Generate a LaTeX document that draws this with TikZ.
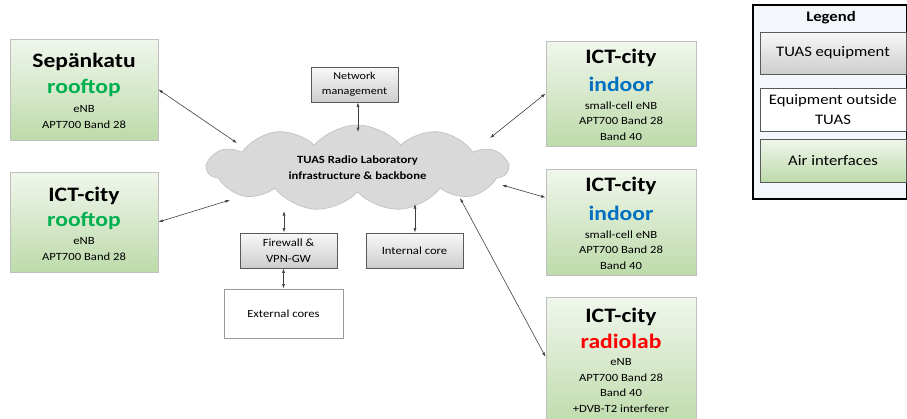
\documentclass[tikz,border=0pt]{standalone}
\usepackage{fontspec}
\setmainfont{Carlito}[FakeStretch=1.15]
\usetikzlibrary{arrows.meta,shapes.symbols,calc}
\definecolor{gtop}{HTML}{F0F6EC}
\definecolor{gbot}{HTML}{BDDBAA}
\definecolor{ktop}{HTML}{F8F8F8}
\definecolor{kbot}{HTML}{CDCDCD}
\definecolor{gborder}{HTML}{BFBFBF}
\definecolor{kborder}{HTML}{595959}
\definecolor{cloudfill}{HTML}{D9D9D9}
\definecolor{cloudline}{HTML}{BFBFBF}
\definecolor{roofgreen}{HTML}{00B050}
\definecolor{indoorblue}{HTML}{0070C0}
\definecolor{labred}{HTML}{FF0000}
\definecolor{legbg}{HTML}{F3F6FB}
\definecolor{arrowcol}{HTML}{404040}
\begin{document}
\begin{tikzpicture}[x=1pt,y=-1pt,
  gbox/.style={draw=gborder, line width=0.8pt, top color=gtop, bottom color=gbot, inner sep=0},
  kbox/.style={draw=kborder, line width=0.8pt, top color=ktop, bottom color=kbot, inner sep=0, align=center},
  wbox/.style={draw=gborder!80!black, line width=0.8pt, fill=white, inner sep=0, align=center},
  ttl/.style={font=\fontsize{20.5}{24}\selectfont\bfseries, anchor=base, inner sep=0},
  body/.style={font=\fontsize{11}{15.5}\selectfont, align=center, anchor=north, inner sep=0},
  biarrow/.style={draw=arrowcol, line width=0.6pt, arrows={Latex[length=4.5pt,width=3pt]-Latex[length=4.5pt,width=3pt]}},
  legtext/.style={font=\fontsize{14.5}{20}\selectfont, align=center}
]
\useasboundingbox (0,0) rectangle (907,418);

% cloud
\node[cloud, cloud puffs=11, cloud puff arc=100, aspect=3.4, draw=cloudline, fill=cloudfill,
      line width=0.6pt, minimum width=300, minimum height=86, inner sep=0,
      font=\fontsize{11}{16}\selectfont\bfseries, align=center] (cloud) at (357.5,168)
  {TUAS Radio Laboratory\\infrastructure \& backbone};

% green boxes
\node[gbox, minimum width=148, minimum height=101] (sep) at (84,89.5) {};
\node[ttl] (sepT) at (84,67.7) {Sepänkatu};
\node[ttl, text=roofgreen] (sepS) at (84,93.5) {rooftop};
\node[body] (sepB) at (84,105.7) {eNB\\APT700 Band 28};

\node[gbox, minimum width=148, minimum height=100] (rl) at (84,222) {};
\node[ttl] (rlT) at (84,201.7) {ICT-city};
\node[ttl, text=roofgreen] (rlS) at (84,226.5) {rooftop};
\node[body] (rlB) at (84,237.7) {eNB\\APT700 Band 28};

\node[gbox, minimum width=150, minimum height=105] (in1) at (621,93.5) {};
\node[ttl] (in1T) at (621,63.3) {ICT-city};
\node[ttl, text=indoorblue] (in1S) at (621,91) {indoor};
\node[body] (in1B) at (621,101.5) {small-cell eNB\\APT700 Band 28\\Band 40};

\node[gbox, minimum width=150, minimum height=106] (in2) at (621,222) {};
\node[ttl] (in2T) at (621,191.7) {ICT-city};
\node[ttl, text=indoorblue] (in2S) at (621,220) {indoor};
\node[body] (in2B) at (621,230.5) {small-cell eNB\\APT700 Band 28\\Band 40};

\node[gbox, minimum width=150, minimum height=133] (rad) at (621,363.5) {};
\node[ttl] (radT) at (621,322) {ICT-city};
\node[ttl, text=labred] (radS) at (621,348) {radiolab};
\node[body] (radB) at (621,358.7) {eNB\\APT700 Band 28\\Band 40\\+DVB-T2 interferer};

% gray / white boxes
\node[kbox, minimum width=87, minimum height=35, font=\fontsize{10.5}{14.5}\selectfont] (nm) at (354.5,84.5) {Network\\management};
\node[kbox, minimum width=97, minimum height=35, font=\fontsize{11}{16}\selectfont] (fw) at (288.5,250.5) {Firewall \&\\VPN-GW};
\node[kbox, minimum width=97, minimum height=35, font=\fontsize{11}{16}\selectfont] (ic) at (414.5,250.5) {Internal core};
\node[wbox, minimum width=119, minimum height=49, font=\fontsize{11}{16}\selectfont] (ext) at (283.5,313.5) {External cores};

% cloud attachment points
\coordinate (c1) at (237,143);
\coordinate (c2) at (230,200);
\coordinate (c3) at (358,132);
\coordinate (c4) at (490,138);
\coordinate (c5) at (502,185);
\coordinate (c6) at (460,198);
\coordinate (c7) at (284,211);
\coordinate (c8) at (415,204);

% connectors
\draw[biarrow] (sep.east) -- (c1);
\draw[biarrow] (rl.east) -- (c2);
\draw[biarrow] (c3 |- nm.south) -- (c3);
\draw[biarrow] (in1.west) -- (c4);
\draw[biarrow] (in2.162) -- (c5);
\draw[biarrow] (rad.175) -- (c6);
\draw[biarrow] (c7) -- (c7 |- fw.north);
\draw[biarrow] (c8) -- (c8 |- ic.north);
\draw[biarrow] (ext.north) -- (ext.north |- fw.south);

% legend
\node[draw=black, line width=1.5pt, fill=legbg, minimum width=153.5, minimum height=194, inner sep=0] (leg) at (829.75,102) {};
\node[font=\fontsize{14.5}{16}\selectfont\bfseries, anchor=base] (legT) at (831,21.5) {Legend};
\node[kbox, minimum width=146, minimum height=42, legtext] (legK) at (833,53) {TUAS equipment};
\node[wbox, draw=kborder, minimum width=146, minimum height=43, legtext] (legW) at (833,109.5) {Equipment outside\\TUAS};
\node[gbox, draw=kborder, minimum width=146, minimum height=43, legtext] (legG) at (833,160.5) {Air interfaces};
\end{tikzpicture}
\end{document}
